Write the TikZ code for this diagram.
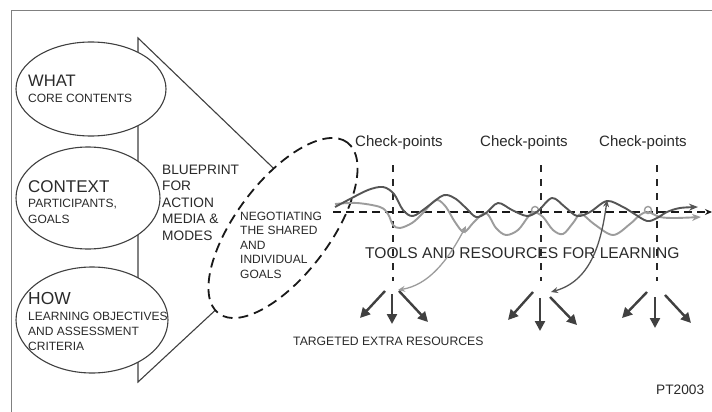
\documentclass[tikz,border=0pt]{standalone}
\usepackage{fontspec}
\setmainfont{Liberation Sans}
\usetikzlibrary{shapes.geometric,arrows.meta}
\newcommand\setfs[1]{\fontsize{#1pt}{#1pt}\selectfont}
\definecolor{ink}{HTML}{2A2A2A}
\definecolor{darkwave}{HTML}{555555}
\definecolor{lightwave}{HTML}{9C9C9C}
\definecolor{outline}{HTML}{404040}

\begin{document}
\begin{tikzpicture}[x=1pt,y=-1pt,
  txt/.style={inner sep=0pt, anchor=base west, text=ink},
  goal/.style={ellipse, draw=outline, line width=1.1pt, fill=white, inner sep=0pt},
  checkline/.style={draw=black!85, line width=1.8pt, dash pattern=on 7pt off 7pt},
  resarrow/.style={draw=outline, line width=2.4pt, -{Triangle[length=10pt,width=10pt]}},
  fbarrow/.style={line width=1.3pt, {Stealth[length=7pt,width=6pt]}-{Stealth[length=7pt,width=6pt]}},
  wave/.style={line width=1.9pt, smooth, tension=0.55}]

% canvas and frame
\useasboundingbox (0,0) rectangle (712,412);
\fill[white] (0,0) rectangle (712,412);
\draw[black!50, line width=0.9pt] (11,413) -- (11,10) -- (713,10);

% funnel behind the three goal ellipses
\draw[outline, line width=1.1pt] (138,38) -- (320,213) -- (138,382) -- cycle;

% the three planning ellipses
\node[goal, minimum width=150pt, minimum height=94pt] (what) at (91,89) {};
\node[goal, minimum width=144pt, minimum height=102pt] (context) at (88,198) {};
\node[goal, minimum width=152pt, minimum height=106pt] (how) at (92,320) {};

\node[txt] (whatT) at (28,86) {\setfs{16.6}WHAT};
\node[txt] (whatS) at (28,102) {\setfs{12}CORE CONTENTS};
\node[txt] (contextT) at (28,192) {\setfs{17}CONTEXT};
\node[txt] (contextS1) at (28,207) {\setfs{12}PARTICIPANTS,};
\node[txt] (contextS2) at (28,223) {\setfs{12}GOALS};
\node[txt] (howT) at (28,304) {\setfs{17.4}HOW};
\node[txt] (howS1) at (28,320) {\setfs{12}LEARNING OBJECTIVES};
\node[txt] (howS2) at (28,335) {\setfs{12}AND ASSESSMENT};
\node[txt] (howS3) at (28,350) {\setfs{12}CRITERIA};

% blueprint label
\foreach \t [count=\i] in {BLUEPRINT,FOR,ACTION,MEDIA \&,MODES}
  \node[txt] (bp\i) at (162,{174+16.5*(\i-1)}) {\setfs{13.7}\t};

% negotiation ellipse
\node[ellipse, draw=black!90, fill=white, line width=1.8pt, dash pattern=on 10pt off 6pt,
      minimum width=214pt, minimum height=94pt, rotate=53, inner sep=0pt] (neg) at (283,228) {};
\foreach \t [count=\i] in {NEGOTIATING,THE SHARED,AND,INDIVIDUAL,GOALS}
  \node[txt] (ng\i) at (240,{220+14.5*(\i-1)}) {\setfs{12}\t};

% check-point labels
\node[txt] (cp1) at (355,146) {\setfs{15}Check-points};
\node[txt] (cp2) at (480,146) {\setfs{15}Check-points};
\node[txt] (cp3) at (599,146) {\setfs{15}Check-points};

\node[txt] (tools) at (365,258) {\setfs{15.6}TOOLS AND RESOURCES FOR LEARNING};
\node[txt] (extra) at (293,345) {\setfs{12.2}TARGETED EXTRA RESOURCES};
\node[txt] (sig) at (656,394) {\setfs{13.7}PT2003};

% check-point lines
\coordinate (v1t) at (393,165); \coordinate (v1b) at (393,281);
\coordinate (v2t) at (541,165); \coordinate (v2b) at (541,281);
\coordinate (v3t) at (657,165); \coordinate (v3b) at (657,281);
\draw[checkline] (v1t) -- (v1b);
\draw[checkline] (v2t) -- (v2b);
\draw[checkline] (v3t) -- (v3b);

% time line
\coordinate (tl0) at (333,212);
\coordinate (tl1) at (712,212);
\draw[black!90, line width=1.5pt, dash pattern=on 8pt off 5pt, -{Stealth[length=7pt,width=6pt]}] (tl0) -- (tl1);

% learning paths
\draw[wave, lightwave, -{Stealth[length=9pt,width=7pt]}] plot coordinates {
  (335,204) (357,203) (380,207) (388,214) (393,225) (400,228) (412,223) (422,214)
  (432,203) (438,200) (446,207) (455,222) (464,232) (474,222) (486,213) (496,228)
  (506,235) (518,230) (528,217) (534,212) (543,217) (553,230) (563,234) (573,223)
  (581,214) (594,224) (613,235) (630,224) (640,215) (648,212) (660,217) (675,218) (701,217)};
\draw[lightwave, line width=1.4pt] (535,210) circle[radius=3.5];
\draw[lightwave, line width=1.4pt] (648,210) circle[radius=3.5];
\draw[wave, darkwave, -{Stealth[length=9pt,width=7pt]}] plot coordinates {
  (335,207) (350,199) (368,190) (383,187) (394,194) (403,210) (413,216) (427,207)
  (440,197) (447,195) (456,199) (466,208) (476,217) (486,213) (498,203) (512,210)
  (527,216) (538,211) (552,198) (565,207) (577,216) (590,212) (607,201) (623,207)
  (633,213) (647,221) (657,218) (667,212) (680,208) (698,207)};

% feedback to the check-points
\coordinate (f1a) at (466,226); \coordinate (f1b) at (398,290);
\coordinate (f2a) at (607,200); \coordinate (f2b) at (551,292);
\draw[fbarrow, lightwave] (f1a) .. controls (447,262) and (428,285) .. (f1b);
\draw[fbarrow, darkwave] (f2a) .. controls (601,245) and (590,281) .. (f2b);

% targeted extra resources
\foreach \n/\sx/\sy/\ex/\ey in {
  a1/385/291/360/318, a2/392/294/392/324, a3/399/291/428/322,
  b1/533/292/508/320, b2/540/298/540/331, b3/550/297/577/325,
  c1/647/292/622/318, c2/655/297/655/328, c3/665/295/691/323}{
  \coordinate (\n s) at (\sx,\sy);
  \coordinate (\n e) at (\ex,\ey);
  \draw[resarrow] (\n s) -- (\n e);
}
\end{tikzpicture}
\end{document}
